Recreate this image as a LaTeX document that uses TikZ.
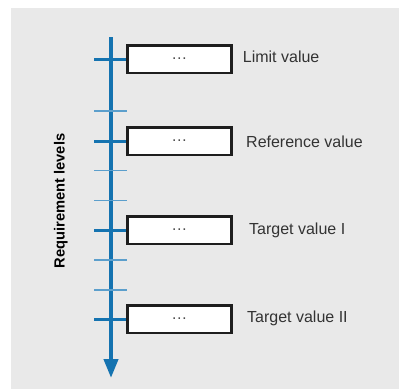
\documentclass[tikz,border=0pt]{standalone}
\usepackage{fontspec}
\setmainfont{Liberation Sans}
\usetikzlibrary{arrows.meta}
\definecolor{axisblue}{HTML}{1573B0}
\definecolor{tickblue}{HTML}{5C9FCC}
\definecolor{bggray}{HTML}{E9E9E9}
\definecolor{framegray}{HTML}{1E1E1E}

\begin{document}
\begin{tikzpicture}[
  x=1pt, y=-1pt,
  every node/.style={font=\fontsize{16}{19}\selectfont, text=black!80},
  valuebox/.style={rectangle, draw=framegray, line width=2.5pt, fill=white,
    minimum width=104pt, minimum height=27.5pt, inner sep=0pt,
    font=\fontsize{16}{16}\selectfont, text=black!70},
  levellabel/.style={anchor=base west, inner sep=0pt},
  majortick/.style={axisblue, line width=3pt},
  minortick/.style={tickblue, line width=1.3pt}
]
\useasboundingbox (0,0) rectangle (399,389);
\fill[bggray] (11,8) rectangle (399,389);

% axis
\coordinate (top) at (111,37);
\coordinate (bottom) at (111,378);
\draw[axisblue, line width=4pt, -{Triangle[width=14pt, length=19pt]}] (top) -- (bottom);

% minor ticks
\foreach \y in {111, 170.7, 200.3, 260, 290}
  \draw[minortick] (94,\y) -- (127,\y);

% boxes
\node[valuebox] (limit) at (179.4,59) {…};
\node[valuebox] (reference) at (179.4,141) {…};
\node[valuebox] (target1) at (179.4,230) {…};
\node[valuebox] (target2) at (179.4,319) {…};

% major ticks
\coordinate (t1) at (94,59);
\coordinate (t2) at (94,141);
\coordinate (t3) at (94,230);
\coordinate (t4) at (94,319);
\draw[majortick] (t1) -- (limit.west);
\draw[majortick] (t2) -- (reference.west);
\draw[majortick] (t3) -- (target1.west);
\draw[majortick] (t4) -- (target2.west);

% labels
\node[levellabel] (limitlabel) at (242.7,62.3) {Limit value};
\node[levellabel] (referencelabel) at (246,147.8) {Reference value};
\node[levellabel] (target1label) at (249,234) {Target value I};
\node[levellabel] (target2label) at (247,322.5) {Target value II};

\node[rotate=90, text=black, font=\bfseries\fontsize{14.7}{17}\selectfont] (axislabel) at (60.7,201) {Requirement levels};
\end{tikzpicture}
\end{document}
